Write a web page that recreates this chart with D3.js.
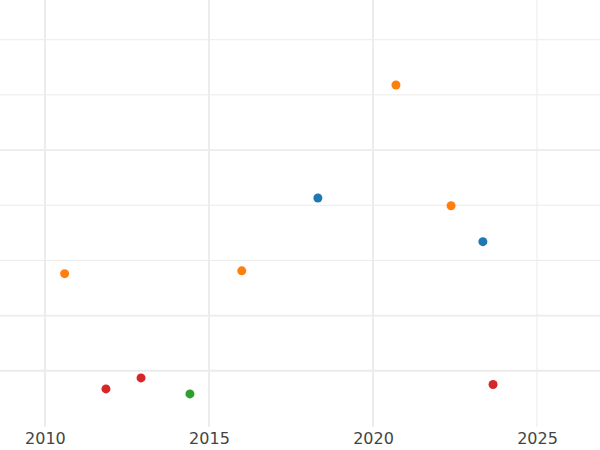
<!DOCTYPE html>
<html>
<head>
<meta charset="utf-8">
<script src="https://cdn.jsdelivr.net/npm/d3@7"></script>
<style>body{margin:0;background:#fff}</style>
</head>
<body>
<div id="wrapper"></div>
<script>
const years = [2010.6, 2011.86, 2012.93, 2014.42, 2016.0, 2018.32, 2020.70, 2022.38, 2023.35, 2023.66]
const values = [1.76, -0.33, -0.13, -0.42, 1.81, 3.13, 5.18, 2.99, 2.34, -0.25]
const groups = ["b", "d", "d", "c", "b", "a", "b", "b", "a", "d"]
const groupNames = ["a", "b", "c", "d"]
const groupColors = ["#1f77b4", "#ff7f0e", "#2ca02c", "#d62728"]
const xTicks = [2010, 2015, 2020, 2025]
const yGrid = [0, 1, 2, 3, 4, 5, 6]
const yMajor = [1, 4]

const width = 600, height = 450, plotBottom = 427

const svg = d3.select("#wrapper").append("svg")
    .attr("width", width).attr("height", height)

const xScale = d3.scaleLinear().domain([2008.63, 2026.92]).range([0, width])
const yScale = d3.scaleLinear().domain([-1.02, 6.72]).range([plotBottom, 0])
const colorScale = d3.scaleOrdinal().domain(groupNames).range(groupColors)

// gridlines
svg.append("g").selectAll("line").data(yGrid).enter().append("line")
    .attr("x1", 0).attr("x2", width)
    .attr("y1", d => yScale(d)).attr("y2", d => yScale(d))
    .attr("stroke", "#ebebeb")
    .attr("stroke-width", d => yMajor.includes(d) || d === 0 ? 1.8 : 1)

svg.append("g").selectAll("line").data(xTicks).enter().append("line")
    .attr("x1", d => xScale(d)).attr("x2", d => xScale(d))
    .attr("y1", 0).attr("y2", plotBottom)
    .attr("stroke", "#ebebeb")
    .attr("stroke-width", d => d === 2025 ? 1 : 1.8)

// dots
svg.append("g").selectAll("circle").data(years).enter().append("circle")
    .attr("cx", d => xScale(d))
    .attr("cy", (d, i) => yScale(values[i]))
    .attr("r", 4.5)
    .attr("fill", (d, i) => colorScale(groups[i]))

// x axis
const xAxis = svg.append("g")
    .attr("transform", `translate(0,${plotBottom})`)
    .call(d3.axisBottom(xScale).tickValues(xTicks).tickFormat(d3.format("d")).tickSize(0).tickPadding(6))
xAxis.select(".domain").remove()
xAxis.selectAll("text")
    .style("font-family", "DejaVu Sans")
    .style("font-size", "16px")
    .attr("fill", "#444")
</script>
</body>
</html>
